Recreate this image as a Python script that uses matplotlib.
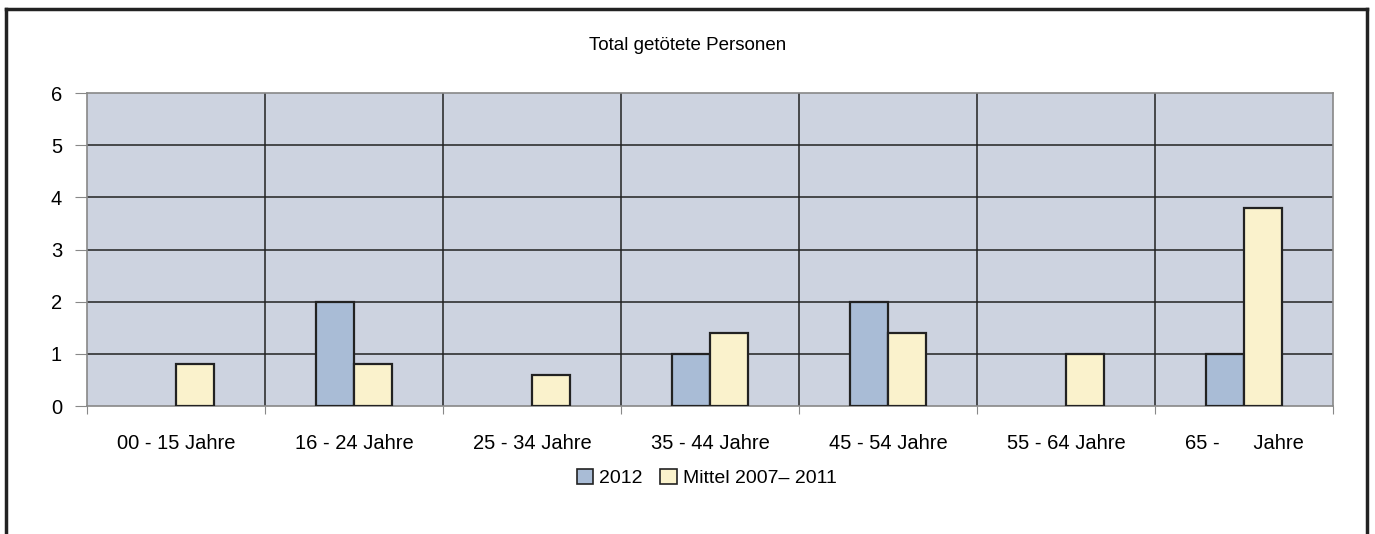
import numpy as np
import matplotlib.pyplot as plt
from matplotlib.patches import Patch
from matplotlib.lines import Line2D

plt.rcParams['font.family'] = ['Liberation Sans', 'DejaVu Sans']

# Altersgruppen und Werte
categories = ['00 - 15 Jahre', '16 - 24 Jahre', '25 - 34 Jahre', '35 - 44 Jahre',
              '45 - 54 Jahre', '55 - 64 Jahre', '65 -      Jahre']
values_2012 = [0, 2, 0, 1, 2, 0, 1]
values_mittel = [0.8, 0.8, 0.6, 1.4, 1.4, 1.0, 3.8]
series_labels = ['2012', 'Mittel 2007\u2013 2011']

col_2012 = '#a9bcd6'
col_mittel = '#faf2cc'
col_bg = '#cdd3e0'
edge = '#222222'

fig = plt.figure(figsize=(13.75, 5.34), dpi=100)
ax = fig.add_axes([0.0633, 0.2397, 0.9062, 0.5861])
ax.set_facecolor(col_bg)

x = np.arange(len(categories))
w = 0.215
# keine Umrandung bei Nullwerten
edges_2012 = [edge if v > 0 else 'none' for v in values_2012]
edges_mittel = [edge if v > 0 else 'none' for v in values_mittel]
ax.bar(x - w / 2, values_2012, w, color=col_2012, edgecolor=edges_2012, linewidth=1.6, zorder=3)
ax.bar(x + w / 2, values_mittel, w, color=col_mittel, edgecolor=edges_mittel, linewidth=1.6, zorder=3)

ax.set_xlim(-0.5, len(categories) - 0.5)
ax.set_ylim(0, 6)

# Gitterlinien
for yv in range(1, 6):
    ax.axhline(yv, color='#222222', linewidth=1.1, zorder=1)
for xv in np.arange(0.5, len(categories) - 0.5):
    ax.axvline(xv, color='#222222', linewidth=1.1, zorder=1)

for s in ax.spines.values():
    s.set_color('#888888')
    s.set_linewidth(1.2)

ax.set_yticks(range(0, 7))
ax.tick_params(axis='y', direction='out', length=9, color='#888888', labelsize=14.5, pad=9)
ax.set_xticks(np.arange(-0.5, len(categories)))
ax.set_xticklabels([])
ax.set_xticks(x, minor=True)
ax.set_xticklabels(categories, minor=True)
ax.tick_params(axis='x', which='major', direction='out', length=6, color='#888888')
ax.tick_params(axis='x', which='minor', length=0, labelsize=14.5, pad=20)

fig.text(0.5, 0.915, 'Total getötete Personen', ha='center', va='center', fontsize=13.5)

handles = [Patch(facecolor=col_2012, edgecolor=edge, linewidth=1.2),
           Patch(facecolor=col_mittel, edgecolor=edge, linewidth=1.2)]
fig.legend(handles, series_labels, loc='center', bbox_to_anchor=(0.514, 0.105), ncol=2,
           frameon=False, fontsize=14, handlelength=0.85, handleheight=0.85,
           handletextpad=0.3, columnspacing=0.9)

# Rahmen um die Grafik
fig.add_artist(Line2D([0.0045, 0.0045], [0, 0.983], color='#222222', linewidth=2.5))
fig.add_artist(Line2D([0.9945, 0.9945], [0, 0.983], color='#222222', linewidth=2.5))
fig.add_artist(Line2D([0.0045, 0.9945], [0.983, 0.983], color='#222222', linewidth=2.5))

fig.savefig('out.png', dpi=100)
